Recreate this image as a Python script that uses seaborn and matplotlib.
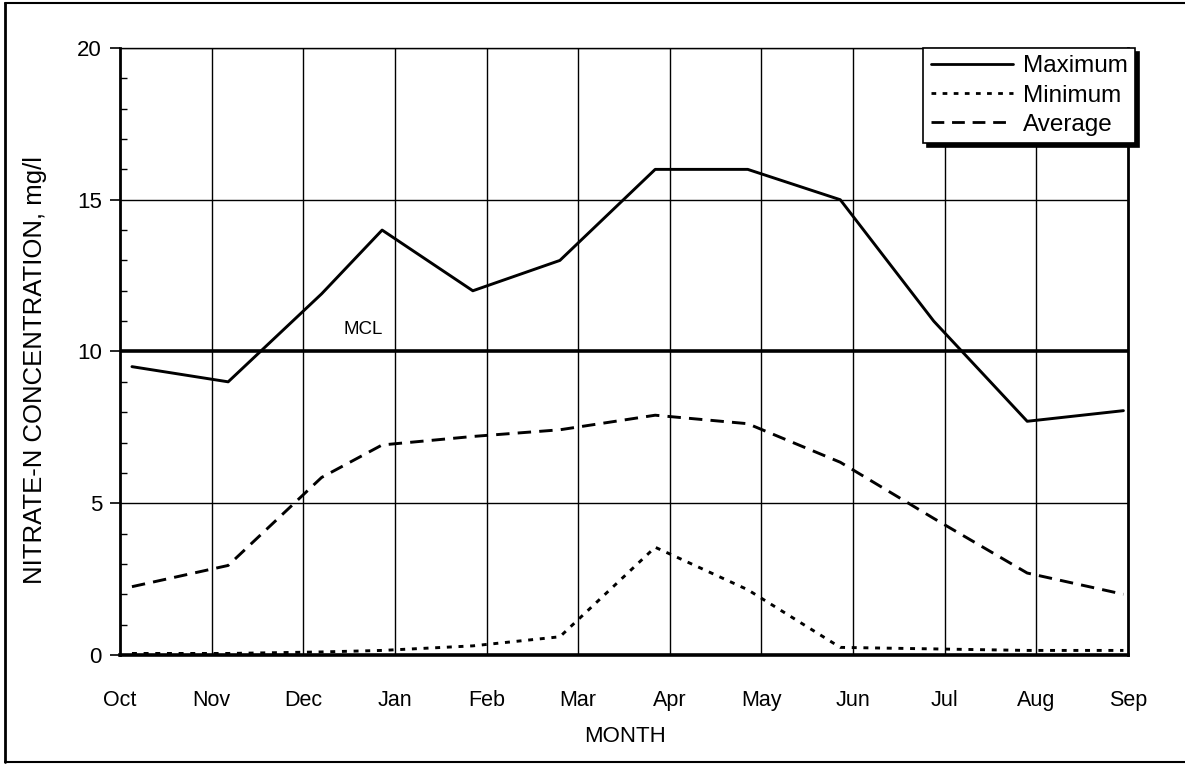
import matplotlib
matplotlib.use("Agg")
import matplotlib.pyplot as plt
from matplotlib.lines import Line2D
from matplotlib.ticker import MultipleLocator
import pandas as pd
import seaborn as sns

# Month labels along the water year (Oct .. Sep)
MONTHS = ["Oct", "Nov", "Dec", "Jan", "Feb", "Mar", "Apr", "May", "Jun", "Jul", "Aug", "Sep"]

# Sampling positions, in months from the start of October
SAMPLE_POS = [0.13, 1.18, 2.2, 2.86, 3.85, 4.8, 5.84, 6.85, 7.86, 8.88, 9.9, 10.95]

# Nitrate-N concentrations, mg/l
MAXIMUM = [9.5, 9.0, 11.9, 14.0, 12.0, 13.0, 16.0, 16.0, 15.0, 11.0, 7.7, 8.05]
MINIMUM = [0.05, 0.05, 0.1, 0.15, 0.3, 0.6, 3.55, 2.15, 0.25, 0.2, 0.15, 0.15]
AVERAGE = [2.25, 2.95, 5.85, 6.92, 7.2, 7.42, 7.9, 7.62, 6.35, 4.5, 2.7, 2.0]

MCL = 10.0  # maximum contaminant level

SERIES = ["Maximum", "Minimum", "Average"]

df = pd.DataFrame({
    "month": SAMPLE_POS * 3,
    "conc": MAXIMUM + MINIMUM + AVERAGE,
    "series": [s for s in SERIES for _ in SAMPLE_POS],
})

sns.set_theme(style="white")
plt.rcParams["font.family"] = ["Liberation Sans", "DejaVu Sans"]
plt.rcParams.update({
    "text.color": "black",
    "axes.labelcolor": "black",
    "xtick.color": "black",
    "ytick.color": "black",
})

fig = plt.figure(figsize=(11.85, 7.64), dpi=100)
ax = fig.add_axes([0.1013, 0.1427, 0.8506, 0.7945])

# grid first so that data lines sit on top
for x in range(1, len(MONTHS) - 1):
    ax.axvline(x, color="black", lw=1.0, zorder=1)
for y in (5, 15, 20):
    ax.axhline(y, color="black", lw=1.0, zorder=1)
ax.axhline(MCL, color="black", lw=2.6, zorder=1)
ax.text(2.65, MCL + 0.45, "MCL", fontsize=13.5, ha="center", va="bottom")

sns.lineplot(
    data=df, x="month", y="conc", style="series", style_order=SERIES,
    dashes={"Maximum": "", "Minimum": (1.7, 2.3), "Average": (4.6, 2.8)},
    color="black", linewidth=2.1, estimator=None, sort=False, ax=ax, zorder=3,
)

ax.set_xlim(0, len(MONTHS) - 1)
ax.set_ylim(0, 20)
ax.set_xticks(range(len(MONTHS)))
ax.set_xticklabels(MONTHS)
ax.yaxis.set_major_locator(MultipleLocator(5))
ax.yaxis.set_minor_locator(MultipleLocator(1))

ax.tick_params(axis="x", which="both", length=0, pad=25, labelsize=15.5)
ax.tick_params(axis="y", which="major", direction="out", length=7, width=1.2,
               pad=6, labelsize=16, left=True)
ax.tick_params(axis="y", which="minor", direction="in", length=5, width=1.0,
               left=True, color="black")

ax.set_xlabel("MONTH", fontsize=16)
ax.set_ylabel("NITRATE-N CONCENTRATION, mg/l", fontsize=18.5)
ax.xaxis.set_label_coords(0.501, -0.117)
ax.yaxis.set_label_coords(-0.072, 0.47)

for side, lw in (("left", 2.0), ("bottom", 2.6), ("right", 2.0), ("top", 1.0)):
    ax.spines[side].set_color("black")
    ax.spines[side].set_linewidth(lw)
    ax.spines[side].set_visible(True)

leg = ax.legend(
    loc="upper right", bbox_to_anchor=(1.007, 1.0), fontsize=17.5,
    handlelength=3.4, handletextpad=0.4, labelspacing=0.3,
    borderpad=0.3, borderaxespad=0, fancybox=False, framealpha=1,
    edgecolor="black", shadow={"color": "black", "alpha": 1.0, "ox": 3, "oy": -3},
)
leg.get_frame().set_linewidth(1.2)
leg.set_zorder(5)
for h in leg.get_lines():
    h.set_linewidth(2.0)

# outer frame around the figure
fig.add_artist(Line2D([5 / 1185, 5 / 1185], [2 / 764, 1 - 3 / 764], color="black", lw=2.0))
fig.add_artist(Line2D([5 / 1185, 1.0], [1 - 3 / 764, 1 - 3 / 764], color="black", lw=1.5))
fig.add_artist(Line2D([5 / 1185, 1.0], [2 / 764, 2 / 764], color="black", lw=1.5))

fig.savefig("out.png", dpi=100)
